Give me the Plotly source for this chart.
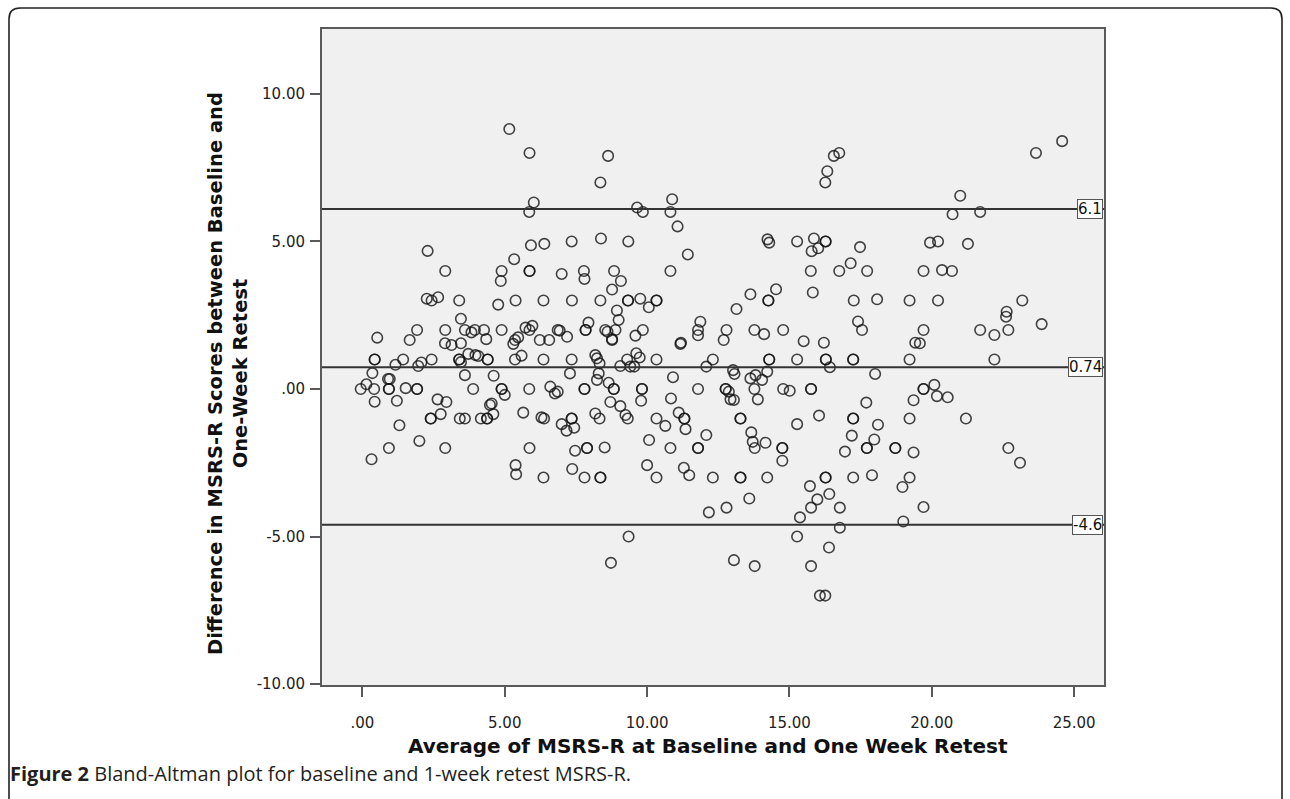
import plotly.graph_objects as go

# ---------------- data ----------------
avg_a = [5.16, 5.87, 6.02, 5.86, 2.29, 5.92, 6.39, 7.35, 5.33, 2.91,
         4.89, 4.86, 5.87, 5.87, 7.00, 7.78, 7.80, 2.26, 2.43, 2.66,
         3.40, 4.77, 5.38, 6.36, 7.36, 3.46, 0.52, 1.66, 1.92, 2.91,
         3.60, 3.83, 3.95, 4.27, 4.35, 4.89, 5.73, 5.87, 5.97, 5.47,
         5.36, 6.23, 6.56, 6.86, 6.93, 7.19, 7.84, 7.84, 2.90, 3.13,
         3.46]
diff_a = [8.81, 8.00, 6.32, 6.00, 4.68, 4.87, 4.92, 5.00, 4.40, 4.00,
          4.00, 3.66, 4.00, 4.00, 3.90, 4.00, 3.73, 3.06, 3.00, 3.11,
          3.00, 2.86, 3.00, 3.00, 3.00, 2.38, 1.74, 1.66, 2.00, 2.00,
          2.00, 1.92, 2.00, 2.00, 1.69, 2.00, 2.08, 2.00, 2.14, 1.75,
          1.66, 1.66, 1.66, 2.00, 1.98, 1.77, 2.00, 2.00, 1.55, 1.49,
          1.55]

avg_b = [8.63, 8.36, 10.88, 9.65, 9.85, 10.82, 11.07, 8.38, 9.34, 11.43,
         8.84, 9.08, 8.77, 10.82, 8.36, 9.33, 9.33, 9.76, 10.06, 10.33,
         10.33, 8.94, 9.00, 7.94, 8.53, 8.61, 8.89, 8.77, 9.59, 9.85,
         11.19, 11.87, 11.79, 11.79, 12.79, 12.69, 13.14, 13.63, 14.26, 14.26,
         14.53, 13.77, 14.11, 14.78, 15.50, 16.21, 14.23, 14.29, 15.27, 15.86,
         15.78, 16.01, 16.27, 16.27, 15.75, 15.82, 16.75, 16.56, 16.75, 16.33,
         16.26]
diff_b = [7.90, 7.00, 6.43, 6.15, 6.00, 6.00, 5.51, 5.10, 5.00, 4.56,
          4.00, 3.66, 3.37, 4.00, 3.00, 3.00, 3.00, 3.06, 2.77, 3.00,
          3.00, 2.66, 2.34, 2.25, 2.00, 1.94, 2.00, 1.69, 1.81, 2.00,
          1.57, 2.28, 2.00, 1.82, 2.00, 1.66, 2.71, 3.21, 3.00, 3.00,
          3.38, 2.00, 1.86, 2.00, 1.62, 1.57, 5.07, 4.96, 5.00, 5.10,
          4.67, 4.77, 5.00, 5.00, 4.00, 3.27, 4.00, 7.90, 8.00, 7.38,
          7.00]

avg_c = [23.66, 24.58, 21.00, 20.73, 21.70, 17.48, 19.94, 20.22, 21.27, 17.15,
         17.73, 19.71, 20.36, 20.71, 17.26, 18.08, 19.22, 20.22, 23.18, 17.41,
         17.55, 19.71, 22.63, 22.61, 21.70, 22.20, 22.69, 23.86, 19.42, 19.58]
diff_c = [8.00, 8.40, 6.55, 5.92, 6.00, 4.81, 4.96, 5.00, 4.92, 4.26,
          4.00, 4.00, 4.03, 4.00, 3.00, 3.04, 3.00, 3.00, 3.00, 2.29,
          2.00, 2.00, 2.62, 2.45, 2.00, 1.83, 2.00, 2.20, 1.57, 1.55]

avg_d = [0.43, 0.43, 1.43, 1.16, 1.96, 2.07, 2.43, 3.40, 3.40, 3.46,
         3.72, 3.97, 4.07, 4.40, 4.40, 5.36, 5.59, 5.30, 6.36, 7.35,
         0.35, 7.29, 3.60, 4.61, -0.06, 0.14, 0.41, 0.93, 0.93, 0.96,
         0.90, 1.52, 1.92, 1.92, 0.43, 1.21, 2.64, 2.95, 3.89, 4.89,
         4.89, 5.00, 5.86, 6.60, 6.76, 6.86, 7.80, 7.80, 1.30, 2.40,
         2.40, 2.75, 3.42, 3.60, 4.16, 4.38, 4.38, 4.48, 4.54, 4.60,
         5.65, 6.29, 6.38, 7.00, 7.17, 7.35, 7.35, 7.44, 0.32, 0.93,
         2.00, 2.91, 5.87, 5.38, 5.40, 6.36, 7.37, 7.47, 7.80]
diff_d = [1.00, 1.00, 1.00, 0.82, 0.78, 0.90, 1.00, 1.00, 1.00, 0.91,
          1.19, 1.15, 1.12, 1.00, 1.00, 1.00, 1.13, 1.53, 1.00, 1.00,
          0.54, 0.53, 0.47, 0.45, 0.00, 0.16, 0.00, 0.00, 0.00, 0.34,
          0.34, 0.03, 0.00, 0.00, -0.43, -0.40, -0.35, -0.44, 0.00, 0.00,
          0.00, -0.20, 0.00, 0.08, -0.15, -0.09, 0.00, 0.00, -1.23, -1.00,
          -1.00, -0.85, -1.00, -1.00, -1.00, -1.00, -1.00, -0.54, -0.49, -0.85,
          -0.80, -0.96, -1.00, -1.19, -1.41, -1.00, -1.00, -1.31, -2.38, -2.00,
          -1.76, -2.00, -2.00, -2.58, -2.89, -3.00, -2.71, -2.09, -3.00]

avg_e = [8.18, 8.24, 8.33, 8.30, 8.24, 8.65, 9.06, 9.30, 9.41, 9.55,
         9.62, 9.74, 8.77, 10.33, 11.17, 10.91, 12.08, 12.31, 13.02, 13.07,
         13.63, 13.81, 14.04, 14.22, 14.29, 14.29, 15.27, 16.28, 16.28, 16.42,
         8.83, 8.83, 9.82, 9.82, 9.79, 8.71, 9.06, 9.24, 9.32, 8.18,
         8.33, 10.84, 11.79, 12.76, 12.76, 12.87, 12.93, 13.05, 13.77, 13.89,
         14.78, 15.01, 15.76, 15.76, 10.33, 10.64, 11.11, 11.31, 11.31, 11.35,
         13.28, 13.28, 13.66, 13.71, 13.78, 14.16, 12.08, 15.27, 16.04, 7.89,
         7.89, 8.51, 10.07, 10.82, 11.79, 11.79, 14.75, 14.75, 14.75, 16.95,
         8.36, 8.36, 10.00, 10.33, 11.29, 11.48, 12.31, 13.28, 13.28, 14.22,
         13.59, 12.17, 12.79, 15.72, 16.27, 16.27, 16.40, 15.98, 15.76, 15.37,
         16.77, 16.77, 9.35, 8.73, 13.05, 13.78, 15.27, 16.39, 15.76, 16.07,
         16.26]
diff_e = [1.15, 1.04, 0.87, 0.53, 0.31, 0.21, 0.78, 1.00, 0.76, 0.76,
          1.21, 1.07, 1.66, 1.00, 1.53, 0.40, 0.76, 1.00, 0.64, 0.51,
          0.36, 0.47, 0.31, 0.59, 1.00, 1.00, 1.00, 1.00, 1.00, 0.74,
          0.00, 0.00, 0.00, 0.00, -0.40, -0.44, -0.58, -0.88, -1.00, -0.83,
          -1.00, -0.32, 0.00, 0.00, 0.00, -0.09, -0.35, -0.37, 0.00, -0.35,
          0.00, -0.06, 0.00, 0.00, -1.00, -1.25, -0.80, -1.00, -1.00, -1.36,
          -1.00, -1.00, -1.47, -1.79, -2.00, -1.82, -1.56, -1.19, -0.90, -2.00,
          -2.00, -1.98, -1.73, -2.00, -2.00, -2.00, -2.00, -2.00, -2.43, -2.12,
          -3.00, -3.00, -2.58, -3.00, -2.67, -2.92, -3.00, -3.00, -3.00, -3.00,
          -3.71, -4.18, -4.02, -3.29, -3.00, -3.00, -3.56, -3.74, -4.02, -4.35,
          -4.02, -4.70, -5.00, -5.89, -5.80, -6.00, -5.00, -5.37, -6.00, -7.00,
          -7.00]

avg_f = [17.24, 17.24, 19.22, 22.20, 18.01, 19.71, 19.71, 20.09, 20.18, 20.56,
         19.36, 17.70, 17.24, 17.24, 18.11, 19.22, 21.20, 17.19, 17.98, 17.72,
         17.72, 18.72, 18.72, 19.36, 22.69, 23.10, 17.24, 17.90, 19.22, 18.97,
         19.71, 19.00]
diff_f = [1.00, 1.00, 1.00, 1.00, 0.51, 0.00, 0.00, 0.14, -0.24, -0.28,
          -0.38, -0.46, -1.00, -1.00, -1.21, -1.00, -1.00, -1.58, -1.71, -2.00,
          -2.00, -2.00, -2.00, -2.15, -2.00, -2.50, -3.00, -2.92, -3.00, -3.32,
          -4.00, -4.49]

ref_values = [6.1, 0.74, -4.6]
ref_labels = ["6.1", "0.74", "-4.6"]

x_ticks = [0, 5, 10, 15, 20, 25]
x_tick_labels = [".00", "5.00", "10.00", "15.00", "20.00", "25.00"]
y_ticks = [-10, -5, 0, 5, 10]
y_tick_labels = ["-10.00", "-5.00", ".00", "5.00", "10.00"]

x_title = "Average of MSRS-R at Baseline and One Week Retest"
y_title = "Difference in MSRS-R Scores between Baseline and<br>One-Week Retest"
caption_bold = "Figure 2"
caption_text = "Bland-Altman plot for baseline and 1-week retest MSRS-R."

avg = avg_a + avg_b + avg_c + avg_d + avg_e + avg_f
diff = diff_a + diff_b + diff_c + diff_d + diff_e + diff_f

# ---------------- figure ----------------
W, H = 1290, 799
L, R, T, B = 322, 1104, 29, 685
pw, ph = R - L, B - T


def px(xp):
    return (xp - L) / pw


def py(yp):
    return (B - yp) / ph


fig = go.Figure()
fig.add_trace(go.Scatter(
    x=avg, y=diff, mode="markers",
    marker=dict(symbol="circle-open", size=10.5,
                color="rgba(20,20,20,0.8)", line=dict(width=1.6)),
    hoverinfo="x+y", showlegend=False,
))

axis_common = dict(
    showgrid=False, zeroline=False, showline=True, mirror=True,
    linecolor="#5a5a5a", linewidth=2,
    ticks="outside", ticklen=10, tickwidth=2, tickcolor="#5a5a5a",
    tickfont=dict(family="DejaVu Sans", size=15, color="#222"),
)

fig.update_layout(
    width=W, height=H,
    margin=dict(l=L, r=W - R, t=T, b=H - B, pad=0),
    paper_bgcolor="white", plot_bgcolor="#f0f0f0",
    xaxis=dict(range=[-1.42, 26.05], tickmode="array", tickvals=x_ticks,
               ticktext=x_tick_labels, ticklabelstandoff=13, **axis_common),
    yaxis=dict(range=[-10.03, 12.2], tickmode="array", tickvals=y_ticks,
               ticktext=y_tick_labels, ticklabelstandoff=2, **axis_common),
)

# reference lines (mean difference and limits of agreement)
for v, lab in zip(ref_values, ref_labels):
    fig.add_shape(type="line", xref="paper", yref="y", x0=0, x1=1, y0=v, y1=v,
                  line=dict(color="#333333", width=2))
    fig.add_annotation(xref="paper", yref="y", x=1, y=v, text=lab,
                       xanchor="right", yanchor="middle", showarrow=False,
                       xshift=-1,
                       font=dict(family="DejaVu Sans", size=15, color="#111"),
                       bgcolor="white", bordercolor="#555", borderwidth=1,
                       borderpad=0)

# axis titles
fig.add_annotation(xref="paper", yref="paper", x=px(708), y=py(746),
                   text="<b>" + x_title + "</b>", showarrow=False,
                   xanchor="center", yanchor="middle",
                   font=dict(family="DejaVu Sans", size=20, color="#111"))
fig.add_annotation(xref="paper", yref="paper", x=px(228), y=py(374),
                   text="<b>" + y_title + "</b>", showarrow=False,
                   textangle=-90, xanchor="center", yanchor="middle",
                   font=dict(family="DejaVu Sans", size=19.5, color="#111"))

# caption
fig.add_annotation(xref="paper", yref="paper", x=px(8), y=py(773),
                   text="<b>" + caption_bold + "</b> " + caption_text,
                   showarrow=False, xanchor="left", yanchor="middle",
                   font=dict(family="Open Sans", size=20, color="#231f20"))

# rounded frame around the whole figure
xl, xr = px(9), px(1282)
yt, yb = py(8), py(830)
rx, ry = 11 / pw, 11 / ph
path = (f"M {xl},{yb} L {xl},{yt - ry} Q {xl},{yt} {xl + rx},{yt} "
        f"L {xr - rx},{yt} Q {xr},{yt} {xr},{yt - ry} L {xr},{yb}")
fig.add_shape(type="path", xref="paper", yref="paper", path=path,
              line=dict(color="#222", width=1.6), layer="below")

fig.write_html("out.html",
               config={"displayModeBar": False},
               post_script="document.body.style.margin='0';"
                           "document.body.style.overflow='hidden';")
